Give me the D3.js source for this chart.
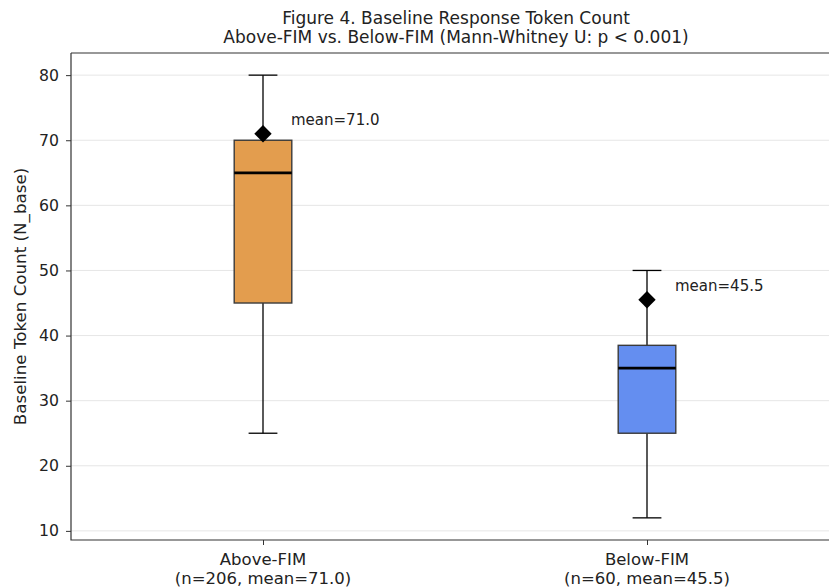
<!DOCTYPE html>
<html><head><meta charset="utf-8">
<script src="https://cdn.jsdelivr.net/npm/d3@7"></script>
<style>body{margin:0;background:#fff;} text{font-family:"DejaVu Sans",sans-serif;}</style>
</head><body>
<svg id="c" width="829" height="588"></svg>
<script>
const groups = ["Above-FIM", "Below-FIM"];
const groupLabels2 = ["(n=206, mean=71.0)", "(n=60, mean=45.5)"];
const q1 = [45, 25];
const medians = [65, 35];
const q3 = [70, 38.5];
const whiskerLow = [25, 12];
const whiskerHigh = [80, 50];
const means = [71.0, 45.5];
const meanLabels = ["mean=71.0", "mean=45.5"];
const colors = ["#e39d4e", "#648ef0"];
const yTicks = [10, 20, 30, 40, 50, 60, 70, 80];

const svg = d3.select("#c");
const L = 71, R = 839, T = 53, B = 540;
const x = d3.scaleLinear().domain([0.5, 2.5]).range([L, R]);
const y = d3.scaleLinear().domain([8.6, 83.4]).range([B, T]);
const bw = x(1.15) - x(1);

svg.append("g").selectAll("line").data(yTicks).join("line")
  .attr("x1", L).attr("x2", R).attr("y1", d => y(d)).attr("y2", d => y(d))
  .attr("stroke", "#e6e6e6").attr("stroke-width", 1);

const gy = svg.append("g").attr("transform", `translate(${L},0)`)
  .call(d3.axisLeft(y).tickValues(yTicks).tickSize(5).tickPadding(7));
gy.select(".domain").remove();
gy.selectAll("text").attr("font-size", 15.7).attr("fill", "#222");
gy.selectAll("line").attr("stroke", "#333");

const gx = svg.append("g").attr("transform", `translate(0,${B})`)
  .call(d3.axisBottom(x).tickValues([1, 2]).tickSize(5).tickFormat(() => ""));
gx.select(".domain").remove();
gx.selectAll("line").attr("stroke", "#333");

groups.forEach((g, i) => {
  const cx = x(i + 1);
  const grp = svg.append("g");
  grp.append("line").attr("x1", cx).attr("x2", cx).attr("y1", y(q3[i])).attr("y2", y(whiskerHigh[i])).attr("stroke", "#000").attr("stroke-width", 1.3);
  grp.append("line").attr("x1", cx).attr("x2", cx).attr("y1", y(q1[i])).attr("y2", y(whiskerLow[i])).attr("stroke", "#000").attr("stroke-width", 1.3);
  [whiskerHigh[i], whiskerLow[i]].forEach(v => {
    grp.append("line").attr("x1", cx - bw / 4).attr("x2", cx + bw / 4).attr("y1", y(v)).attr("y2", y(v)).attr("stroke", "#000").attr("stroke-width", 1.3);
  });
  grp.append("rect").attr("x", cx - bw / 2).attr("width", bw)
    .attr("y", y(q3[i])).attr("height", y(q1[i]) - y(q3[i]))
    .attr("fill", colors[i]).attr("stroke", "#3a3a3a").attr("stroke-width", 1.4);
  grp.append("line").attr("x1", cx - bw / 2).attr("x2", cx + bw / 2).attr("y1", y(medians[i])).attr("y2", y(medians[i])).attr("stroke", "#000").attr("stroke-width", 2.8);
  grp.append("path").attr("d", d3.symbol().type(d3.symbolSquare).size(150)())
    .attr("transform", `translate(${cx},${y(means[i])}) rotate(45)`).attr("fill", "#000");
  grp.append("text").attr("x", cx + 28).attr("y", y(means[i] + 2.1)).attr("dy", "0.35em")
    .attr("font-size", 15).attr("fill", "#222").text(meanLabels[i]);
  svg.append("text").attr("x", cx).attr("y", 565).attr("text-anchor", "middle").attr("font-size", 16.5).attr("fill", "#222").text(g);
  svg.append("text").attr("x", cx).attr("y", 584).attr("text-anchor", "middle").attr("font-size", 16.5).attr("fill", "#222").text(groupLabels2[i]);
});

svg.append("path").attr("d", `M${L},${T}H${R}M${L},${T}V${B}H${R}`).attr("fill", "none").attr("stroke", "#333").attr("stroke-width", 1.2);

svg.append("text").attr("x", 456).attr("y", 24).attr("text-anchor", "middle").attr("font-size", 17).attr("fill", "#222").text("Figure 4. Baseline Response Token Count");
svg.append("text").attr("x", 456).attr("y", 43).attr("text-anchor", "middle").attr("font-size", 17).attr("fill", "#222").text("Above-FIM vs. Below-FIM (Mann-Whitney U: p < 0.001)");
svg.append("text").attr("transform", `translate(26,${(T + B) / 2}) rotate(-90)`).attr("text-anchor", "middle").attr("font-size", 16.7).attr("fill", "#222").text("Baseline Token Count (N_base)");
</script>
</body></html>
